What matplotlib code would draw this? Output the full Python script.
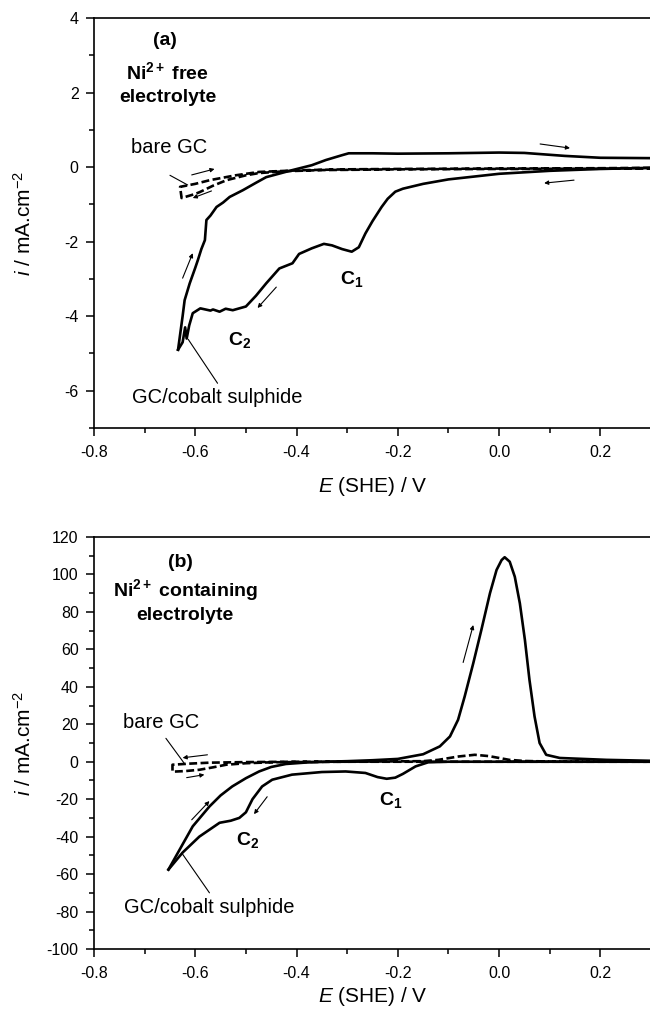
import matplotlib
matplotlib.use("Agg")
import matplotlib.pyplot as plt
from matplotlib.ticker import MultipleLocator, FuncFormatter

plt.rcParams["font.family"] = ["Liberation Sans", "DejaVu Sans"]
plt.rcParams["mathtext.fontset"] = "custom"
plt.rcParams["mathtext.rm"] = "Liberation Sans"
plt.rcParams["mathtext.it"] = "Liberation Sans:italic"
plt.rcParams["mathtext.bf"] = "Liberation Sans:bold"

# ---- panel (a): Ni2+ free electrolyte ----
# GC/cobalt sulphide, cathodic scan (0.3 V -> -0.635 V)
E_a_cath = [0.30, 0.20, 0.10, 0.0, -0.10, -0.15, -0.19, -0.205, -0.22, -0.232, -0.25,
            -0.264, -0.277, -0.291, -0.31, -0.33, -0.346, -0.37, -0.395, -0.408, -0.434,
            -0.46, -0.48, -0.50, -0.526, -0.54, -0.552, -0.565, -0.57, -0.59, -0.605,
            -0.612, -0.617, -0.620, -0.625, -0.634]
i_a_cath = [-0.02, -0.05, -0.10, -0.18, -0.33, -0.45, -0.58, -0.66, -0.85, -1.07, -1.45,
            -1.78, -2.15, -2.27, -2.20, -2.10, -2.06, -2.18, -2.33, -2.58, -2.72,
            -3.12, -3.45, -3.74, -3.84, -3.80, -3.88, -3.82, -3.85, -3.79, -3.92,
            -4.25, -4.60, -4.30, -4.70, -4.90]
# GC/cobalt sulphide, anodic scan (-0.635 V -> 0.3 V)
E_a_anod = [-0.634, -0.630, -0.625, -0.621, -0.611, -0.600, -0.595, -0.588, -0.581, -0.578,
            -0.570, -0.558, -0.545, -0.532, -0.506, -0.48, -0.46, -0.43, -0.408, -0.37,
            -0.342, -0.31, -0.297, -0.25, -0.20, -0.10, 0.0, 0.05, 0.10, 0.13, 0.20, 0.30]
i_a_anod = [-4.90, -4.50, -4.00, -3.57, -3.12, -2.70, -2.50, -2.20, -1.96, -1.42,
            -1.30, -1.07, -0.95, -0.80, -0.62, -0.42, -0.27, -0.16, -0.08, 0.05,
            0.19, 0.32, 0.37, 0.37, 0.36, 0.37, 0.39, 0.38, 0.33, 0.30, 0.25, 0.24]
# bare GC loop
E_a_gc = [0.30, 0.20, 0.0, -0.20, -0.30, -0.376, -0.42, -0.474, -0.52, -0.571, -0.60, -0.630,
          -0.627, -0.60, -0.591, -0.565, -0.538, -0.50, -0.474, -0.42, -0.35, -0.20, 0.0, 0.30]
i_a_gc = [-0.02, -0.03, -0.04, -0.05, -0.06, -0.08, -0.10, -0.13, -0.22, -0.35, -0.45, -0.53,
          -0.83, -0.72, -0.67, -0.50, -0.35, -0.22, -0.16, -0.11, -0.08, -0.06, -0.05, -0.04]

# ---- panel (b): Ni2+ containing electrolyte ----
E_b_cath = [0.30, 0.20, 0.10, 0.0, -0.10, -0.14, -0.165, -0.19, -0.205, -0.222, -0.24,
            -0.264, -0.303, -0.35, -0.409, -0.448, -0.468, -0.487, -0.50, -0.513, -0.53,
            -0.552, -0.592, -0.625, -0.653]
i_b_cath = [0, 0, 0, 0, 0, -0.3, -2.5, -6.5, -8.5, -9.1, -8.2,
            -6.0, -5.2, -5.5, -6.9, -9.6, -13.2, -20, -27, -30, -31.5,
            -32.6, -40, -48.5, -57.6]
E_b_anod = [-0.653, -0.631, -0.605, -0.572, -0.55, -0.527, -0.50, -0.474, -0.45, -0.421,
            -0.38, -0.342, -0.30, -0.25, -0.20, -0.15, -0.117, -0.097, -0.081, -0.068,
            -0.051, -0.035, -0.018, -0.005, 0.005, 0.011, 0.021, 0.031, 0.041, 0.051,
            0.060, 0.070, 0.080, 0.093, 0.120, 0.212, 0.30]
i_b_anod = [-57.6, -47, -34.5, -23.9, -18, -13.2, -8.8, -5.2, -2.8, -1.2,
            -0.4, 0, 0.3, 0.8, 1.5, 4.0, 8.2, 13.5, 22.4, 34.8,
            52.6, 70.4, 90, 102.4, 107.7, 109.2, 106.8, 98.8, 84.6, 65,
            43.7, 24.2, 10, 3.7, 2.0, 1.0, 0.5]
E_b_gc = [0.30, 0.0, -0.20, -0.40, -0.50, -0.572, -0.61, -0.645,
          -0.645, -0.62, -0.592, -0.565, -0.539, -0.50, -0.45, -0.30, -0.15, -0.12,
          -0.08, -0.048, -0.02, 0.0, 0.02, 0.05, 0.10, 0.30]
i_b_gc = [0, 0, 0, 0, -0.2, -0.5, -1.0, -1.6,
          -5.3, -5.0, -4.3, -3.0, -1.6, -0.8, -0.3, 0, 0.3, 1.0,
          2.8, 3.7, 3.0, 2.0, 1.0, 0.4, 0.1, 0]

fig = plt.figure(figsize=(6.5, 10.1), dpi=100)
ax_a = fig.add_axes([94 / 650, 1 - 428 / 1010, 557 / 650, 410 / 1010])
ax_b = fig.add_axes([94 / 650, 1 - 949 / 1010, 557 / 650, 412 / 1010])

lw = 1.9
dash = (3.0, 1.3)
ax_a.plot(E_a_cath, i_a_cath, color="black", lw=lw)
ax_a.plot(E_a_anod, i_a_anod, color="black", lw=lw)
ax_a.plot(E_a_gc, i_a_gc, color="black", lw=lw, dashes=dash)
ax_b.plot(E_b_cath, i_b_cath, color="black", lw=lw)
ax_b.plot(E_b_anod, i_b_anod, color="black", lw=lw)
ax_b.plot(E_b_gc, i_b_gc, color="black", lw=lw, dashes=dash)


def arrow(ax, tail, head):
    ax.annotate("", xy=head, xytext=tail,
                arrowprops=dict(arrowstyle="-|>", color="black", lw=0.8,
                                mutation_scale=6, shrinkA=0, shrinkB=0))


def leader(ax, p0, p1):
    ax.annotate("", xy=p1, xytext=p0,
                arrowprops=dict(arrowstyle="-", color="black", lw=0.8,
                                shrinkA=0, shrinkB=0))


# arrows (a)
arrow(ax_a, (0.081, 0.62), (0.140, 0.51))
arrow(ax_a, (0.148, -0.35), (0.089, -0.43))
arrow(ax_a, (-0.607, -0.21), (-0.562, -0.05))
arrow(ax_a, (-0.568, -0.64), (-0.605, -0.83))
arrow(ax_a, (-0.625, -2.98), (-0.605, -2.31))
arrow(ax_a, (-0.440, -3.22), (-0.477, -3.78))
leader(ax_a, (-0.650, -0.22), (-0.615, -0.48))
leader(ax_a, (-0.556, -5.80), (-0.614, -4.62))

# arrows (b)
arrow(ax_b, (-0.071, 53), (-0.051, 73))
arrow(ax_b, (-0.576, 3.7), (-0.625, 2.1))
arrow(ax_b, (-0.617, -8.5), (-0.582, -6.9))
arrow(ax_b, (-0.607, -31), (-0.572, -21))
arrow(ax_b, (-0.458, -18.7), (-0.484, -28))
leader(ax_b, (-0.658, 12.5), (-0.620, -1.5))
leader(ax_b, (-0.572, -70), (-0.626, -49))

fs = 14.5
fsb = 14
ax_a.text(-0.660, 3.40, "(a)", fontsize=fsb, fontweight="bold", ha="center", va="center")
ax_a.text(-0.655, 2.55, r"Ni$^{\mathbf{2+}}$ free", fontsize=fsb, fontweight="bold",
          ha="center", va="center")
ax_a.text(-0.655, 1.88, "electrolyte", fontsize=fsb, fontweight="bold", ha="center", va="center")
ax_a.text(-0.652, 0.53, "bare GC", fontsize=fs, ha="center", va="center")
ax_a.text(-0.290, -3.0, r"C$_\mathbf{1}$", fontsize=fsb, fontweight="bold", ha="center", va="center")
ax_a.text(-0.513, -4.65, r"C$_\mathbf{2}$", fontsize=fsb, fontweight="bold", ha="center", va="center")
ax_a.text(-0.556, -6.17, "GC/cobalt sulphide", fontsize=fs, ha="center", va="center")

ax_b.text(-0.630, 106.5, "(b)", fontsize=fsb, fontweight="bold", ha="center", va="center")
ax_b.text(-0.620, 91.5, r"Ni$^{\mathbf{2+}}$ containing", fontsize=fsb, fontweight="bold",
          ha="center", va="center")
ax_b.text(-0.620, 78, "electrolyte", fontsize=fsb, fontweight="bold", ha="center", va="center")
ax_b.text(-0.668, 21, "bare GC", fontsize=fs, ha="center", va="center")
ax_b.text(-0.213, -20.5, r"C$_\mathbf{1}$", fontsize=fsb, fontweight="bold", ha="center", va="center")
ax_b.text(-0.497, -42, r"C$_\mathbf{2}$", fontsize=fsb, fontweight="bold", ha="center", va="center")
ax_b.text(-0.572, -78, "GC/cobalt sulphide", fontsize=fs, ha="center", va="center")

panels = [(ax_a, (-7, 4), 2, 1, -0.115), (ax_b, (-100, 120), 20, 10, -0.087)]
for ax, (ylo, yhi), ymaj, ymin, xlab_y in panels:
    ax.set_xlim(-0.8, 0.3)
    ax.set_ylim(ylo, yhi)
    ax.xaxis.set_major_locator(MultipleLocator(0.2))
    ax.xaxis.set_minor_locator(MultipleLocator(0.1))
    ax.yaxis.set_major_locator(MultipleLocator(ymaj))
    ax.yaxis.set_minor_locator(MultipleLocator(ymin))
    ax.tick_params(which="both", direction="out", top=False, right=False,
                   labelsize=11.5, width=1.1)
    ax.tick_params(which="major", length=6)
    ax.tick_params(which="minor", length=3.5)
    ax.tick_params(axis="x", pad=6)
    ax.tick_params(axis="y", pad=5)
    for s in ["left", "bottom", "top"]:
        ax.spines[s].set_linewidth(1.2)
    ax.spines["right"].set_visible(False)
    ax.set_xlabel(r"$E$ (SHE) / V", fontsize=15)
    ax.set_ylabel(r"$i$ / mA.cm$^{-2}$", fontsize=15)
    ax.xaxis.set_label_coords(0.5, xlab_y)
    ax.yaxis.set_label_coords(-0.106, 0.5)
    ax.xaxis.set_major_formatter(FuncFormatter(
        lambda v, p: f"{v:.1f}" if abs(v) > 1e-9 else "0.0"))
    ax.yaxis.set_major_formatter(FuncFormatter(lambda v, p: f"{v:.0f}"))

fig.savefig("out.png", dpi=100)
